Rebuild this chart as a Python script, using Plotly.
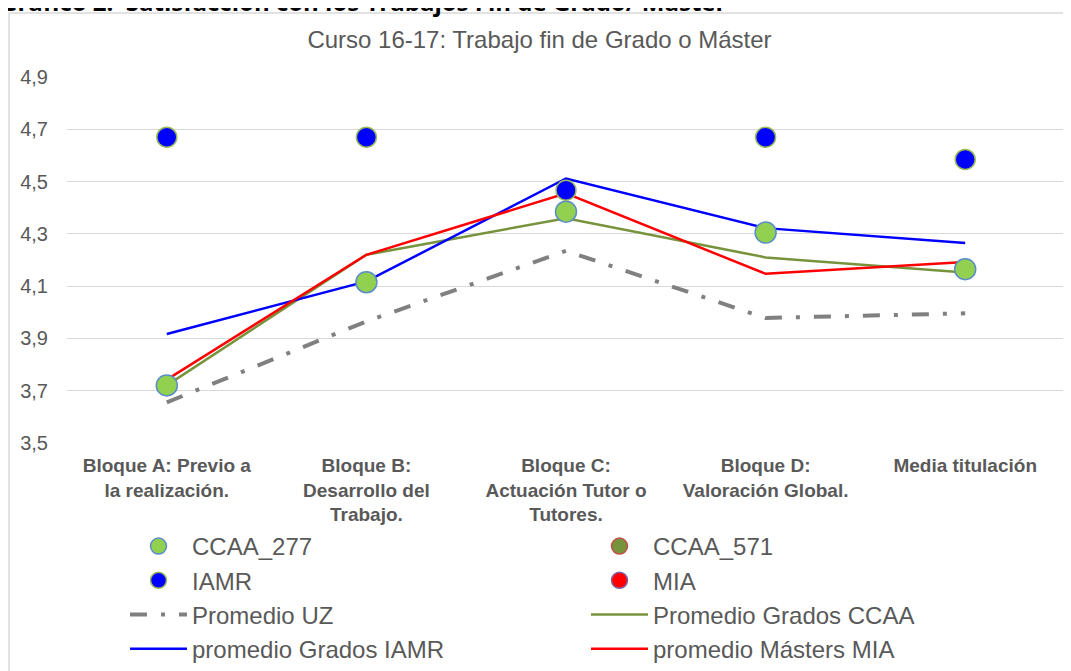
import plotly.graph_objects as go

categories = ["Bloque A", "Bloque B", "Bloque C", "Bloque D", "Media"]
tick_labels = [
    "Bloque A: Previo a<br>la realización.",
    "Bloque B:<br>Desarrollo del<br>Trabajo.",
    "Bloque C:<br>Actuación Tutor o<br>Tutores.",
    "Bloque D:<br>Valoración Global.",
    "Media titulación",
]

ccaa_277 = [3.72, 4.115, 4.385, 4.305, 4.165]
ccaa_571 = [None, None, None, None, None]
iamr = [4.67, 4.67, 4.467, 4.67, 4.585]
mia = [None, None, None, None, None]
promedio_uz = [3.655, 3.965, 4.235, 3.978, 3.996]
promedio_grados_ccaa = [3.72, 4.22, 4.36, 4.21, 4.152]
promedio_grados_iamr = [3.917, 4.118, 4.512, 4.322, 4.265]
promedio_masters_mia = [3.742, 4.22, 4.455, 4.147, 4.192]

# page is offset by the default 8px body margin, so the figure is drawn slightly smaller
W, H = 1063, 663
L, R, T, B = 59, 6, 69, 228
PW, PH = W - L - R, H - T - B

fig = go.Figure()

# lines first (drawn beneath markers)
fig.add_trace(go.Scatter(x=categories, y=promedio_uz, mode="lines", name="Promedio UZ",
                         line=dict(color="#808080", width=4, dash="17px,14px,4px,14px"),
                         legendrank=5))
fig.add_trace(go.Scatter(x=categories, y=promedio_grados_ccaa, mode="lines", name="Promedio Grados CCAA",
                         line=dict(color="#77933C", width=2.5), legendrank=6))
fig.add_trace(go.Scatter(x=categories, y=promedio_grados_iamr, mode="lines", name="promedio Grados IAMR",
                         line=dict(color="#0000FF", width=2.5), legendrank=7))
fig.add_trace(go.Scatter(x=categories, y=promedio_masters_mia, mode="lines", name="promedio Másters MIA",
                         line=dict(color="#FF0000", width=2.5), legendrank=8))

# markers
fig.add_trace(go.Scatter(x=categories, y=ccaa_277, mode="markers", name="CCAA_277",
                         marker=dict(color="#92D050", size=21, line=dict(color="#5B8DC8", width=1.5)),
                         legendrank=1))
fig.add_trace(go.Scatter(x=categories, y=ccaa_571, mode="markers", name="CCAA_571",
                         marker=dict(color="#77933C", size=21, line=dict(color="#C0504D", width=1.5)),
                         legendrank=2))
fig.add_trace(go.Scatter(x=categories, y=iamr, mode="markers", name="IAMR",
                         marker=dict(color="#0000FF", size=20, line=dict(color="#9BBB59", width=1.5)),
                         legendrank=3))
fig.add_trace(go.Scatter(x=categories, y=mia, mode="markers", name="MIA",
                         marker=dict(color="#FF0000", size=20, line=dict(color="#8064A2", width=1.5)),
                         legendrank=4))

fig.update_layout(
    width=W, height=H,
    margin=dict(l=L, r=R, t=T, b=B, autoexpand=False),
    paper_bgcolor="white", plot_bgcolor="white",
    separators=",.",
    font=dict(family="Liberation Sans, Arial, sans-serif", color="#595959"),
    title=dict(text="Curso 16-17: Trabajo fin de Grado o Máster", x=0.5, xanchor="center",
               y=1 - 32 / H, yanchor="middle", font=dict(size=24, color="#595959")),
    xaxis=dict(type="category", tickmode="array", tickvals=categories, ticktext=tick_labels,
               range=[-0.5, 4.5], showgrid=False, showline=False, ticks="", ticklabelstandoff=9,
               tickfont=dict(size=19, color="#595959", family="Liberation Sans, Arial, sans-serif",
                             weight="bold")),
    yaxis=dict(range=[3.4995, 4.9005], tickmode="array",
               tickvals=[3.5, 3.7, 3.9, 4.1, 4.3, 4.5, 4.7, 4.9], tickformat=".1f",
               showgrid=True, gridcolor="#D9D9D9", gridwidth=1.2, zeroline=False, showline=False,
               ticks="", tickfont=dict(size=20, color="#595959"), ticklabelstandoff=18),
    legend=dict(orientation="h", x=(117 - L) / PW, xanchor="left", y=-(516 - (T + PH)) / PH,
                yanchor="top", entrywidth=389, entrywidthmode="pixels",
                font=dict(size=24, color="#595959"),
                itemwidth=57, tracegroupgap=0, bgcolor="rgba(0,0,0,0)"),
    showlegend=True,
)

# outer chart frame
fig.add_shape(type="rect", xref="paper", yref="paper",
              x0=(1 - L) / PW, x1=1.05, y0=-0.8, y1=1 + (T - 5) / PH,
              line=dict(color="#D9D9D9", width=1.5), fillcolor="rgba(0,0,0,0)", layer="below")

# document caption partly cut off at the top
fig.add_annotation(text="Gráfico 2.  Satisfacción con los Trabajos Fin de Grado/ Máster",
                   xref="paper", yref="paper", x=(-10 - L) / PW, xanchor="left",
                   y=1 + (T - 12) / PH, yanchor="bottom", showarrow=False,
                   font=dict(family="Open Sans, sans-serif", size=24, color="#000000", weight="bold"))

fig.write_html("out.html")
